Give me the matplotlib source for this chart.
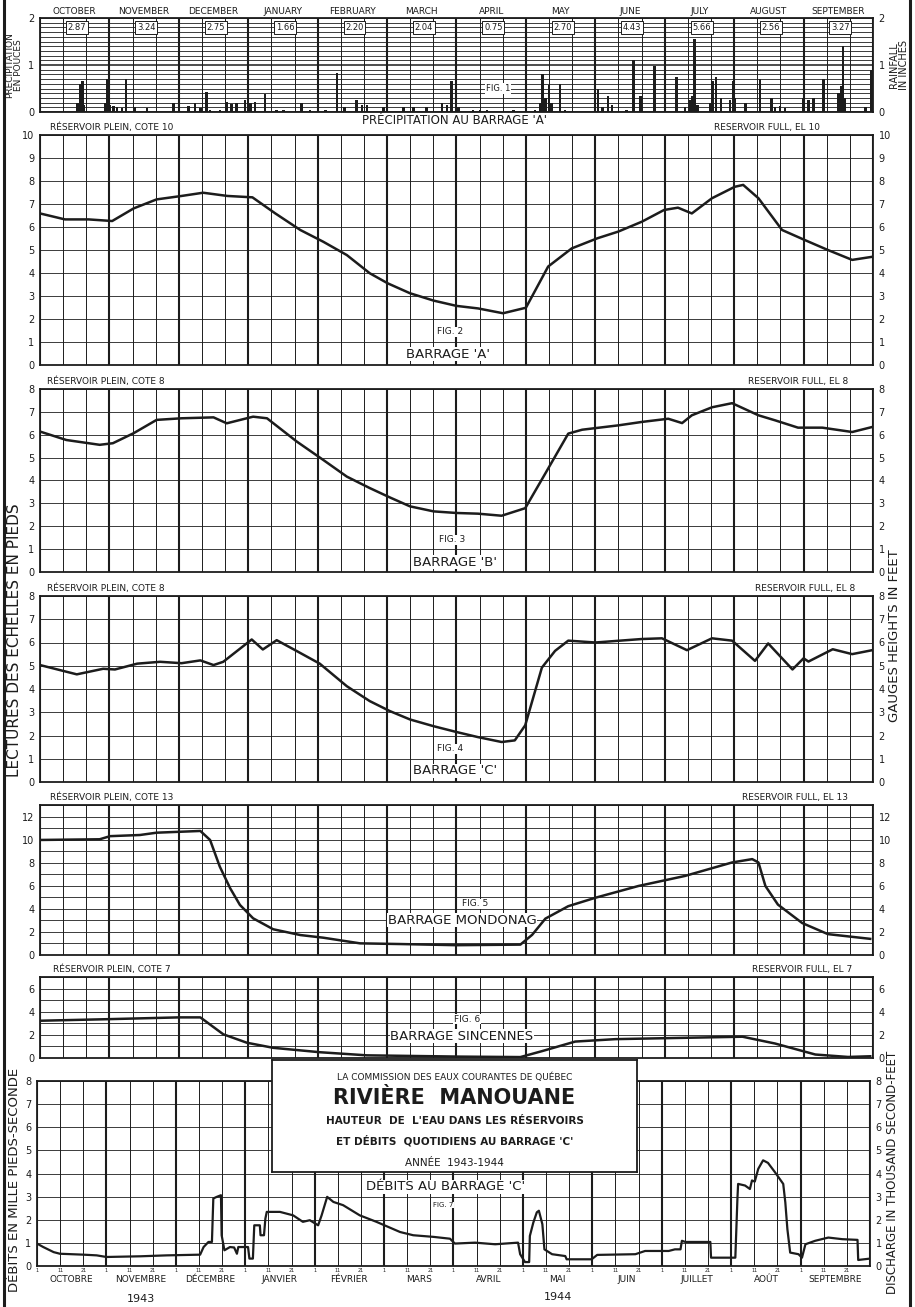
import matplotlib.pyplot as plt
import numpy as np

W, H = 915, 1307
INK = '#1c1c1c'

months_en = ['OCTOBER', 'NOVEMBER', 'DECEMBER', 'JANUARY', 'FEBRUARY', 'MARCH',
             'APRIL', 'MAY', 'JUNE', 'JULY', 'AUGUST', 'SEPTEMBER']
months_fr = ['OCTOBRE', 'NOVEMBRE', 'DÉCEMBRE', 'JANVIER', 'FÉVRIER', 'MARS',
             'AVRIL', 'MAI', 'JUIN', 'JUILLET', 'AOÛT', 'SEPTEMBRE']
monthly_rain = ['2.87', '3.24', '2.75', '1.66', '2.20', '2.04',
                '0.75', '2.70', '4.43', '5.66', '2.56', '3.27']

# time axis in months from 1 Oct 1943
rain_t = [0.54, 0.58, 0.61, 0.63, 0.94, 0.97, 1.0, 1.06, 1.11, 1.18, 1.24, 1.37,
          1.54, 1.92, 2.14, 2.23, 2.31, 2.4, 2.45, 2.59, 2.69, 2.76, 2.83, 2.95,
          3.03, 3.1, 3.24, 3.41, 3.51, 3.77, 3.89, 4.11, 4.28, 4.39, 4.56, 4.64,
          4.71, 4.95, 5.24, 5.38, 5.57, 5.79, 5.86, 5.93, 5.99, 6.03, 6.24, 6.34,
          6.44, 6.82, 7.13, 7.2, 7.24, 7.28, 7.33, 7.37, 7.49, 7.56, 8.04, 8.1,
          8.18, 8.24, 8.45, 8.55, 8.65, 8.85, 9.17, 9.29, 9.37, 9.4, 9.43, 9.47,
          9.65, 9.69, 9.74, 9.81, 9.94, 9.98, 10.01, 10.16, 10.37, 10.54, 10.59,
          10.66, 10.73, 11.0, 11.07, 11.14, 11.29, 11.5, 11.54, 11.57, 11.6,
          11.89, 11.98]
rain_v = [0.2, 0.6, 0.65, 0.15, 0.2, 0.7, 0.15, 0.12, 0.1, 0.08, 0.7, 0.1,
          0.08, 0.2, 0.12, 0.2, 0.08, 0.42, 0.05, 0.05, 0.22, 0.18, 0.2, 0.25,
          0.2, 0.22, 0.38, 0.05, 0.05, 0.2, 0.05, 0.05, 0.82, 0.1, 0.25, 0.15,
          0.15, 0.1, 0.1, 0.1, 0.1, 0.2, 0.15, 0.65, 0.15, 0.1, 0.05, 0.05,
          0.05, 0.05, 0.05, 0.2, 0.8, 0.3, 0.58, 0.2, 0.6, 0.05, 0.5, 0.1,
          0.35, 0.15, 0.05, 1.1, 0.35, 0.97, 0.75, 0.1, 0.25, 0.35, 1.55, 0.15,
          0.2, 0.65, 0.75, 0.3, 0.25, 0.65, 0.3, 0.2, 0.7, 0.3, 0.1,
          0.12, 0.08, 0.3, 0.25, 0.3, 0.7, 0.4, 0.55, 1.4, 0.3,
          0.1, 0.9]

# barrage A
a_t = [0, 0.36, 0.70, 1.04, 1.35, 1.68, 2.04, 2.35, 2.70, 3.06, 3.39, 3.75, 4.08,
       4.42, 4.75, 5.01, 5.33, 5.67, 6.0, 6.31, 6.67, 7.0, 7.32, 7.66, 8.03, 8.33,
       8.67, 8.99, 9.19, 9.39, 9.68, 10.01, 10.13, 10.35, 10.69, 11.02, 11.35,
       11.7, 12.0]
a_v = [6.59, 6.33, 6.33, 6.26, 6.81, 7.2, 7.35, 7.49, 7.35, 7.29, 6.59, 5.87, 5.36,
       4.78, 3.99, 3.55, 3.12, 2.8, 2.57, 2.46, 2.25, 2.49, 4.28, 5.07, 5.51, 5.8,
       6.23, 6.74, 6.84, 6.59, 7.25, 7.75, 7.83, 7.25, 5.87, 5.43, 5.0,
       4.57, 4.71]

# barrage B
b_t = [0, 0.38, 0.86, 1.05, 1.35, 1.68, 2.04, 2.5, 2.69, 3.07, 3.27, 3.7, 4.08,
       4.42, 4.75, 5.04, 5.33, 5.67, 6.0, 6.31, 6.65, 6.99, 7.28, 7.61, 7.81,
       8.33, 8.67, 9.05, 9.25, 9.39, 9.68, 9.97, 10.35, 10.59, 10.92, 11.27,
       11.7, 11.99]
b_v = [6.14, 5.77, 5.56, 5.63, 6.07, 6.65, 6.72, 6.76, 6.5, 6.79, 6.72, 5.7, 4.9,
       4.17, 3.67, 3.26, 2.87, 2.65, 2.58, 2.55, 2.46, 2.79, 4.31, 6.05, 6.22,
       6.41, 6.56, 6.7, 6.51, 6.85, 7.2, 7.38, 6.85, 6.63, 6.31, 6.31,
       6.12, 6.34]

# barrage C
c_t = [0, 0.53, 0.91, 1.08, 1.4, 1.73, 2.04, 2.31, 2.5, 2.64, 3.05, 3.21, 3.41,
       3.7, 4.03, 4.42, 4.75, 5.04, 5.33, 5.67, 6.0, 6.31, 6.65, 6.84, 6.99,
       7.23, 7.42, 7.61, 8.0, 8.67, 8.96, 9.32, 9.68, 9.97, 10.3, 10.49, 10.84,
       11.0, 11.07, 11.42, 11.7, 11.99]
c_v = [5.03, 4.63, 4.87, 4.84, 5.09, 5.17, 5.11, 5.23, 5.03, 5.17, 6.13, 5.7, 6.1,
       5.63, 5.09, 4.12, 3.48, 3.05, 2.69, 2.4, 2.15, 1.93, 1.72, 1.79, 2.44,
       4.92, 5.64, 6.08, 6.0, 6.15, 6.18, 5.67, 6.18, 6.08, 5.21, 5.96, 4.84,
       5.32, 5.18, 5.71, 5.5, 5.67]

# barrage Mondonac
d_t = [0, 0.86, 1.01, 1.44, 1.68, 2.31, 2.45, 2.59, 2.74, 2.88, 3.07, 3.36, 3.75,
       4.08, 4.61, 5.19, 6.0, 6.92, 7.09, 7.28, 7.61, 8.0, 8.62, 9.29, 9.97,
       10.26, 10.35, 10.45, 10.63, 10.98, 11.35, 11.96]
d_v = [9.97, 10.03, 10.3, 10.4, 10.6, 10.75, 9.97, 7.66, 5.78, 4.34, 3.18, 2.23, 1.73,
       1.5, 1.01, 0.95, 0.85, 0.9, 1.75, 3.15, 4.23, 4.96, 5.98, 6.85, 8.02,
       8.31, 8.02, 5.98, 4.37, 2.77, 1.81, 1.4]

# barrage Sincennes
e_t = [0, 1.01, 2.0, 2.31, 2.64, 2.98, 3.36, 4.03, 4.71, 6.05, 6.92, 7.23, 7.71,
       8.29, 10.12, 10.59, 11.17, 11.64, 11.96]
e_v = [3.22, 3.36, 3.51, 3.51, 2.05, 1.32, 0.88, 0.5, 0.23, 0.12, 0.08, 0.59, 1.42,
       1.63, 1.84, 1.25, 0.3, 0.09, 0.15]

# daily discharge at barrage C, thousand cfs
q_t = [0, 0.09, 0.24, 0.33, 0.67, 0.86, 1.0, 1.49, 1.87, 2.35, 2.40, 2.47, 2.52,
       2.54, 2.59, 2.65, 2.66, 2.70, 2.78, 2.84, 2.88, 2.90, 3.04, 3.06, 3.11,
       3.13, 3.21, 3.22, 3.27, 3.29, 3.31, 3.50, 3.69, 3.83, 3.93, 4.05, 4.10,
       4.18, 4.27, 4.41, 4.65, 4.89, 5.23, 5.42, 5.71, 5.95, 6.02, 6.31, 6.60,
       6.93, 6.96, 7.03, 7.09, 7.10, 7.15, 7.20, 7.23, 7.28, 7.31, 7.42, 7.61,
       7.63, 7.99, 8.07, 8.62, 8.76, 9.10, 9.19, 9.27, 9.29, 9.34, 9.70, 9.71,
       10.06, 10.09, 10.10, 10.20, 10.27, 10.30, 10.34, 10.39, 10.46, 10.53,
       10.63, 10.75, 10.78, 10.81, 10.85, 10.97, 11.02, 11.07, 11.21, 11.40,
       11.60, 11.82, 11.83, 12.0]
q_v = [0.97, 0.82, 0.60, 0.53, 0.49, 0.46, 0.39, 0.42, 0.46, 0.49, 0.82, 1.04, 1.04,
       2.92, 2.99, 3.06, 1.33, 0.68, 0.82, 0.80, 0.53, 0.82, 0.82, 0.32, 0.32,
       1.76, 1.76, 1.33, 1.33, 2.05, 2.34, 2.34, 2.19, 1.91, 1.98, 1.76, 2.19,
       2.99, 2.77, 2.63, 2.19, 1.91, 1.47, 1.33, 1.26, 1.18, 0.97, 1.01, 0.94,
       1.01, 0.51, 0.17, 0.17, 1.30, 1.88, 2.32, 2.39, 1.81, 0.72, 0.51, 0.43,
       0.29, 0.29, 0.48, 0.51, 0.65, 0.65, 0.72, 0.72, 1.09, 1.04, 1.04, 0.36,
       0.36, 2.90, 3.55, 3.48, 3.33, 3.70, 3.65, 4.20, 4.57, 4.46,
       4.06, 3.55, 2.75, 1.59, 0.58, 0.51, 0.36, 0.94, 1.09, 1.23,
       1.16, 1.13, 0.26, 0.32]


def fx(px):
    return px / W


def fy(py):
    return 1 - py / H


fig = plt.figure(figsize=(W / 100, H / 100), dpi=100)
fig.patch.set_facecolor('white')


def panel(top, bottom, ymax, lab_step, grid_step, left=40, right=873, fs=7):
    ax = fig.add_axes([fx(left), fy(bottom), fx(right - left), (bottom - top) / H])
    ax.set_xlim(0, 12)
    ax.set_ylim(0, ymax)
    ax.set_xticks(np.arange(13))
    ax.set_xticks(np.arange(37) / 3, minor=True)
    ax.set_yticks(np.arange(0, ymax + 1e-6, lab_step))
    ax.set_yticks(np.arange(0, ymax + 1e-6, grid_step), minor=True)
    ax.grid(True, which='major', axis='x', color=INK, lw=1.5)
    ax.grid(True, which='minor', axis='x', color=INK, lw=0.7)
    ax.grid(True, which='both', axis='y', color=INK, lw=0.6)
    ax.tick_params(which='both', length=0, labelbottom=False, labelleft=True,
                   labelright=True, labelsize=fs, labelcolor=INK, pad=4)
    ax.set_yticklabels([f'{v:g}' for v in np.arange(0, ymax + 1e-6, lab_step)])
    for s in ax.spines.values():
        s.set_color(INK)
        s.set_linewidth(1.3)
    ax.set_axisbelow(True)
    return ax


def level_panel(top, bottom, ymax, lab_step, t, v, cote, fig_no, name, fig_xy, name_xy,
                plein_x=47, full_x=850):
    ax = panel(top, bottom, ymax, lab_step, 1)
    ax.plot(t, v, color=INK, lw=1.8, zorder=3, solid_joinstyle='round')
    fig.text(fx(plein_x), fy(top - 3), f'RÉSERVOIR PLEIN, COTE {cote}', fontsize=6.5,
             color=INK, va='bottom', ha='left')
    fig.text(fx(full_x), fy(top - 3), f'RESERVOIR FULL, EL {cote}', fontsize=6.5,
             color=INK, va='bottom', ha='right')
    box = dict(facecolor='white', edgecolor='none', pad=0.5)
    fig.text(fx(fig_xy[0]), fy(fig_xy[1]), fig_no, fontsize=6.5, color=INK,
             ha='center', va='center', bbox=box, zorder=5)
    fig.text(fx(name_xy[0]), fy(name_xy[1]), name, fontsize=9.5, color=INK,
             ha='center', va='center', bbox=box, zorder=5)
    return ax


# Fig. 1 : daily precipitation
ax1 = panel(18, 112, 2, 1, 0.1)
ax1.grid(True, which='major', axis='y', color=INK, lw=1.1)
ax1.bar(rain_t, rain_v, width=0.036, color=INK, zorder=3)
for i in range(12):
    ax1.text(i + 0.5, 1.02, months_en[i], transform=ax1.get_xaxis_transform(),
             ha='center', va='bottom', fontsize=6.5, color=INK)
    ax1.text(i + 0.53, 1.8, monthly_rain[i], ha='center', va='center', fontsize=6,
             color=INK, zorder=4,
             bbox=dict(facecolor='white', edgecolor=INK, lw=0.7, pad=1.2))
ax1.text(6.6, 0.5, 'FIG. 1', ha='center', va='center', fontsize=6, color=INK,
         bbox=dict(facecolor='white', edgecolor='none', pad=0.5), zorder=4)
fig.text(fx(14), fy(65), 'PRECIPITATION\nEN POUCES', rotation=90, ha='center',
         va='center', fontsize=6.5, color=INK, linespacing=1.0)
fig.text(fx(899), fy(65), 'RAINFALL\nIN INCHES', rotation=90, ha='center',
         va='center', fontsize=7, color=INK, linespacing=1.0)
fig.text(fx(455), fy(121), "PRÉCIPITATION AU BARRAGE 'A'", ha='center', va='center',
         fontsize=8.5, color=INK)

# Fig. 2 - 6 : reservoir levels
level_panel(135, 365, 10, 1, a_t, a_v, 10, 'FIG. 2', "BARRAGE 'A'",
            (450, 332), (448, 354), plein_x=50, full_x=820)
level_panel(389, 572, 8, 1, b_t, b_v, 8, 'FIG. 3', "BARRAGE 'B'",
            (452, 540), (455, 562), full_x=848)
level_panel(596, 782, 8, 1, c_t, c_v, 8, 'FIG. 4', "BARRAGE 'C'",
            (450, 749), (455, 771), full_x=855)
level_panel(805, 955, 13, 2, d_t, d_v, 13, 'FIG. 5', 'BARRAGE MONDONAG',
            (475, 904), (462, 920), plein_x=50, full_x=848)
level_panel(977, 1058, 7, 2, e_t, e_v, 7, 'FIG. 6', 'BARRAGE SINCENNES',
            (467, 1019), (462, 1036), plein_x=53, full_x=852)

fig.text(fx(15), fy(640), 'LECTURES DES ÉCHELLES EN PIEDS', rotation=90, ha='center',
         va='center', fontsize=11, color=INK)
fig.text(fx(895), fy(636), 'GAUGES HEIGHTS IN FEET', rotation=90, ha='center',
         va='center', fontsize=9.5, color=INK)

# Fig. 7 : daily discharge
ax7 = panel(1081, 1266, 8, 1, 1, left=37, right=870)
ax7.plot(q_t, q_v, color=INK, lw=1.6, zorder=3)
days = ['1', '11', '21']
for k in range(36):
    ax7.text(k / 3, -0.012, days[k % 3], transform=ax7.get_xaxis_transform(),
             ha='center', va='top', fontsize=3.5, color=INK)
for i in range(12):
    ax7.text(i + 0.5, -0.05, months_fr[i], transform=ax7.get_xaxis_transform(),
             ha='center', va='top', fontsize=6.5, color=INK)
ax7.text(1.5, -0.15, '1943', transform=ax7.get_xaxis_transform(), ha='center',
         va='top', fontsize=8, color=INK)
ax7.text(7.5, -0.14, '1944', transform=ax7.get_xaxis_transform(), ha='center',
         va='top', fontsize=8, color=INK)
fig.text(fx(446), fy(1187), "DÉBITS AU BARRAGE 'C'", ha='center', va='center',
         fontsize=9.5, color=INK, bbox=dict(facecolor='white', edgecolor='none', pad=0.5))
fig.text(fx(443), fy(1205), 'FIG. 7', ha='center', va='center', fontsize=5,
         color=INK, bbox=dict(facecolor='white', edgecolor='none', pad=0.3))
fig.text(fx(15), fy(1180), 'DÉBITS EN MILLE PIEDS-SECONDE', rotation=90, ha='center',
         va='center', fontsize=9.5, color=INK)
fig.text(fx(893), fy(1172), 'DISCHARGE IN THOUSAND SECOND-FEET', rotation=90,
         ha='center', va='center', fontsize=8.5, color=INK)

# title block
tb = fig.add_axes([fx(272), fy(1172), fx(637 - 272), (1172 - 1060) / H])
tb.set_xticks([])
tb.set_yticks([])
tb.set_facecolor('white')
for s in tb.spines.values():
    s.set_color(INK)
    s.set_linewidth(1.3)
title_lines = [
    ('LA COMMISSION DES EAUX COURANTES DE QUÉBEC', 1077, 6.5, 'normal'),
    ('RIVIÈRE  MANOUANE', 1098, 15, 'bold'),
    ("HAUTEUR  DE  L'EAU DANS LES RÉSERVOIRS", 1121, 7.5, 'bold'),
    ("ET DÉBITS  QUOTIDIENS AU BARRAGE 'C'", 1141, 7.5, 'bold'),
    ('ANNÉE  1943-1944', 1163, 7.5, 'normal'),
]
for txt, py, size, weight in title_lines:
    tb.text(0.5, (1172 - py) / (1172 - 1060), txt, transform=tb.transAxes,
            ha='center', va='center', fontsize=size, fontweight=weight, color=INK)

# sheet border
for px in (4, 910):
    fig.add_artist(plt.Line2D([fx(px), fx(px)], [0, 1], color=INK, lw=2.2))

fig.savefig('out.png', dpi=100, facecolor='white')
